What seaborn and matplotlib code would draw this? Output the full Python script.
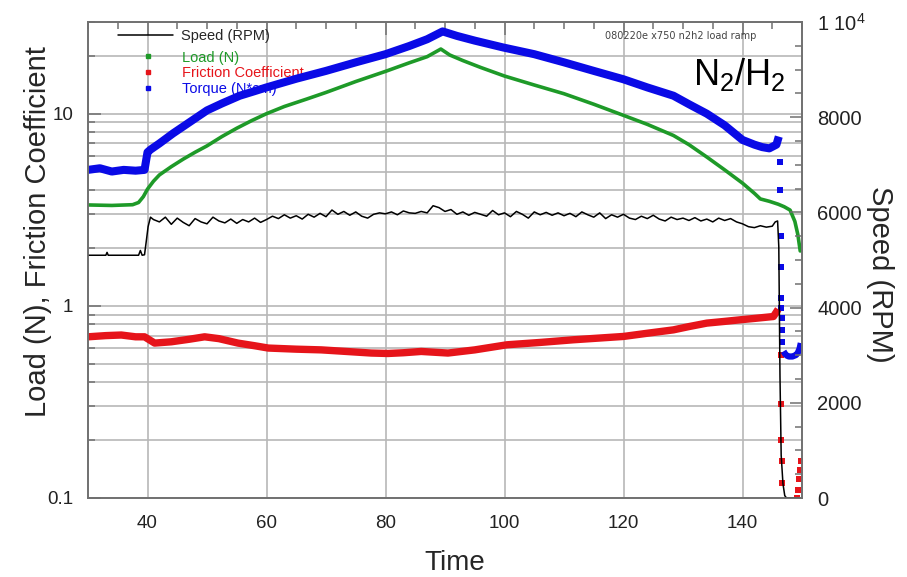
import numpy as np
import pandas as pd
import matplotlib
matplotlib.use("Agg")
import matplotlib.pyplot as plt
import seaborn as sns
from matplotlib.lines import Line2D
from matplotlib.ticker import MultipleLocator, FixedLocator, FuncFormatter, NullFormatter, LogLocator

# ---------------- data ----------------
load_t = [30, 34, 37.5, 38.5, 39.3, 40, 41, 42, 44, 46, 48, 50, 52.5, 55, 57.5, 60, 63, 66.7,
          70, 75, 80, 84, 87, 89.3, 90.8, 93, 96, 100, 105, 110, 115, 120, 124, 128.4, 131,
          134, 137, 140, 142, 143, 144.5, 146, 147, 148, 148.8, 149.3, 149.7]
load_n = [3.35, 3.33, 3.36, 3.45, 3.7, 4.05, 4.45, 4.8, 5.3, 5.8, 6.3, 6.8, 7.6, 8.4, 9.2, 10.0,
          10.9, 11.9, 12.9, 14.7, 16.6, 18.4, 19.8, 21.7, 20.2, 18.9, 17.4, 15.7, 14.1, 12.7,
          11.2, 9.8, 8.8, 7.7, 6.9, 5.95, 5.1, 4.35, 3.85, 3.6, 3.5, 3.38, 3.28, 3.15, 2.75,
          2.35, 1.93]

torque_t = [30, 32, 34, 36, 38, 39.5, 40, 40.5, 42, 44.3, 47, 50, 52.5, 55.5, 58, 60, 65, 70,
            75, 80, 84, 87, 89.6, 92, 95, 99.8, 105, 110, 115, 120, 124, 128.4, 131, 134,
            137, 140, 142, 143.3, 144.5, 145.7, 146.1]
torque_ncm = [5.1, 5.2, 5.0, 5.1, 5.05, 5.1, 6.3, 6.5, 7.0, 7.9, 9.0, 10.4, 11.3, 12.4, 13.1,
              13.7, 15.2, 16.7, 18.5, 20.4, 22.5, 24.4, 26.8, 25.4, 24.0, 22.1, 20.4, 18.5,
              16.7, 15.1, 13.7, 12.4, 11.2, 10.0, 8.7, 7.3, 6.9, 6.7, 6.6, 6.9, 7.6]
torque_drop_t = [146.3, 146.35, 146.4, 146.45, 146.5, 146.55, 146.6, 146.65, 146.7]
torque_drop = [5.6, 4.0, 2.3, 1.6, 1.1, 0.97, 0.86, 0.75, 0.65]
torque_low_t = [146.9, 147.2, 147.5, 147.8, 148.1, 148.4, 148.7, 149.0, 149.3, 149.6, 149.8]
torque_low = [0.58, 0.56, 0.55, 0.545, 0.545, 0.545, 0.55, 0.555, 0.57, 0.6, 0.64]

fric_t = [30, 33, 35.6, 38, 39.5, 41.2, 44, 47, 49.6, 52, 55.2, 58, 60.3, 65, 69.2, 73, 77.6,
          80.4, 83, 86, 90.5, 95, 100.4, 106, 111.6, 116, 120, 124, 128.4, 131, 134, 137,
          139.6, 142, 145.2, 146.0]
fric_coef = [0.69, 0.70, 0.705, 0.69, 0.69, 0.64, 0.65, 0.67, 0.69, 0.675, 0.64, 0.62, 0.603,
             0.595, 0.59, 0.58, 0.568, 0.565, 0.57, 0.579, 0.568, 0.59, 0.627, 0.645, 0.666,
             0.68, 0.693, 0.72, 0.75, 0.78, 0.813, 0.83, 0.846, 0.86, 0.88, 0.96]
fric_drop_t = [146.4, 146.5, 146.55, 146.6, 146.65, 149.2, 149.35, 149.5, 149.65, 149.8]
fric_drop = [0.556, 0.31, 0.2, 0.155, 0.12, 0.1, 0.11, 0.125, 0.14, 0.155]

speed_t = [30, 33, 33.2, 33.4, 38.5, 38.8, 39.1, 39.5, 39.8, 40.1, 40.5] + \
          list(range(41, 146)) + \
          [145.5, 145.9, 146.1, 146.3, 146.5, 146.8, 147.1, 147.4, 149.5]
speed_rpm = [5100, 5100, 5160, 5100, 5100, 5200, 5100, 5110, 5400, 5700, 5900,
             5850, 5800, 5900, 5750, 5880, 5790, 5720, 5870, 5800, 5760,
             5900, 5820, 5780, 5860, 5770, 5850, 5800, 5880, 5790, 5850,
             5920, 5870, 5950, 5880, 5930, 5860, 5960, 5900, 5980, 5910,
             6050, 5960, 6020, 5940, 6010, 5920, 5880, 5960, 5990, 5970,
             6010, 5950, 6030, 5990, 5980, 6020, 5990, 6140, 6100, 6020,
             6060, 5960, 6010, 5940, 6000, 5960, 5920, 6040, 5950, 5990,
             5910, 6020, 5960, 5880, 6010, 5950, 6000, 5940, 5990, 5930,
             5980, 5910, 6010, 5950, 5900, 5990, 5870, 5950, 5900, 5960,
             5880, 5850, 5920, 5870, 5940, 5860, 5820, 5900, 5850, 5880,
             5830, 5890, 5820, 5860, 5800, 5880, 5830, 5870, 5800, 5760,
             5700, 5680, 5720, 5690, 5710,
             5800, 5820, 5280, 2550, 900, 300, 50, 0, 0]

x_ticks = [40, 60, 80, 100, 120, 140]
left_ticks = [0.1, 1, 10]
right_ticks = [0, 2000, 4000, 6000, 8000, 10000]
right_labels = ["0", "2000", "4000", "6000", "8000", "1 10$^{4}$"]

# ---------------- style ----------------
sns.set_theme(style="white")
plt.rcParams["font.family"] = ["Liberation Sans", "DejaVu Sans"]
plt.rcParams["mathtext.fontset"] = "custom"
plt.rcParams["mathtext.rm"] = "Liberation Sans"
plt.rcParams["mathtext.it"] = "Liberation Sans:italic"
plt.rcParams["mathtext.bf"] = "Liberation Sans:bold"

BLUE = "#0a0ae6"
GREEN = "#1e9a28"
RED = "#e6141a"
GRID = "#b8b8b8"
SPINE = "#707070"

fig = plt.figure(figsize=(9.07, 5.77), dpi=100)
ax = fig.add_axes([88 / 907, 79 / 577, 714 / 907, 476 / 577])
ax2 = ax.twinx()

ax.set_yscale("log")
sns.lineplot(x=torque_t, y=torque_ncm, ax=ax, color=BLUE, lw=5.8, estimator=None,
             solid_capstyle="butt")
sns.lineplot(x=load_t, y=load_n, ax=ax, color=GREEN, lw=2.6, estimator=None)
sns.lineplot(x=fric_t, y=fric_coef, ax=ax, color=RED, lw=5.3, estimator=None,
             solid_capstyle="butt")
sns.lineplot(x=torque_low_t, y=torque_low, ax=ax, color=BLUE, lw=4.5, estimator=None,
             solid_capstyle="butt")
sns.scatterplot(x=torque_drop_t, y=torque_drop, ax=ax, color=BLUE, marker="s", s=13,
                linewidth=0)
sns.scatterplot(x=fric_drop_t, y=fric_drop, ax=ax, color=RED, marker="s", s=13,
                linewidth=0)
sns.lineplot(x=speed_t, y=speed_rpm, ax=ax2, color="black", lw=1.1, estimator=None)

# axes limits/ticks
ax.set_xlim(30, 150)
ax.set_ylim(0.1, 30)
ax2.set_ylim(0, 10000)

ax.xaxis.set_major_locator(FixedLocator(x_ticks))
ax.xaxis.set_minor_locator(MultipleLocator(5))
ax.yaxis.set_major_locator(FixedLocator(left_ticks))
ax.yaxis.set_minor_locator(LogLocator(base=10, subs=np.arange(2, 10)))
ax.yaxis.set_major_formatter(FuncFormatter(lambda v, p: f"{v:g}"))
ax.yaxis.set_minor_formatter(NullFormatter())
ax2.yaxis.set_major_locator(FixedLocator(right_ticks))
ax2.set_yticklabels(right_labels)
ax2.yaxis.set_minor_locator(MultipleLocator(500))

ax.grid(which="major", axis="both", color=GRID, lw=1.2)
ax.grid(which="minor", axis="y", color=GRID, lw=1.2)
ax.set_axisbelow(True)

ax.tick_params(which="both", direction="in", top=True, right=False, colors=SPINE,
               labelcolor="#222222", labelsize=13.5)
ax.tick_params(which="major", length=9, width=1.1)
ax.tick_params(which="minor", length=5, width=1.1)
ax.tick_params(axis="x", pad=12)
ax.tick_params(axis="y", pad=10.5)
ax2.tick_params(which="both", direction="in", colors=SPINE, labelcolor="#222222",
                labelsize=14.5, pad=11)
ax2.tick_params(which="major", length=9, width=1.1)
ax2.tick_params(which="minor", length=5, width=1.1)
for a in (ax, ax2):
    for sp in a.spines.values():
        sp.set_color(SPINE)
        sp.set_linewidth(1.2)
        sp.set_visible(True)

ax.set_xlabel("Time", fontsize=20, va="center")
ax.xaxis.set_label_coords(0.514, -0.137)
ax.set_ylabel("Load (N), Friction Coefficient", fontsize=21, va="center")
ax.yaxis.set_label_coords(-0.07, 0.56)
ax2.set_ylabel("Speed (RPM)", fontsize=21, rotation=270, va="center", ha="center")
ax2.yaxis.set_label_coords(1.109, 0.47)

# legends
h_speed = [Line2D([], [], color="black", lw=1.1, label="Speed (RPM)")]
leg1 = ax.legend(handles=h_speed, loc="upper left", bbox_to_anchor=(0.042, 0.985),
                 frameon=False, fontsize=10.5, handlelength=3.8, handletextpad=0.5,
                 borderpad=0, borderaxespad=0)
ax.add_artist(leg1)
h_marks = [Line2D([], [], ls="none", marker="s", ms=2.2, color=GREEN, label="Load (N)"),
           Line2D([], [], ls="none", marker="s", ms=2.2, color=RED, label="Friction Coefficient"),
           Line2D([], [], ls="none", marker="s", ms=2.2, color=BLUE, label="Torque (N*cm)")]
leg2 = ax.legend(handles=h_marks, loc="upper left", bbox_to_anchor=(0.074, 0.94),
                 frameon=False, fontsize=10.5, handlelength=1.0, handletextpad=1.8,
                 labelspacing=0.12, borderpad=0, borderaxespad=0,
                 labelcolor=[GREEN, RED, BLUE])
leg1.set_zorder(1.5)
leg2.set_zorder(1.5)

ax.text(0.724, 0.971, "080220e x750 n2h2 load ramp", transform=ax.transAxes,
        fontsize=7, color="#444444", va="center", ha="left", family="DejaVu Sans")
ax.text(0.847, 0.889, r"N$_\mathregular{2}$/H$_\mathregular{2}$", transform=ax.transAxes,
        fontsize=26, color="black", va="center", ha="left")

ax2.patch.set_visible(False)
fig.savefig("out.png", dpi=100)
